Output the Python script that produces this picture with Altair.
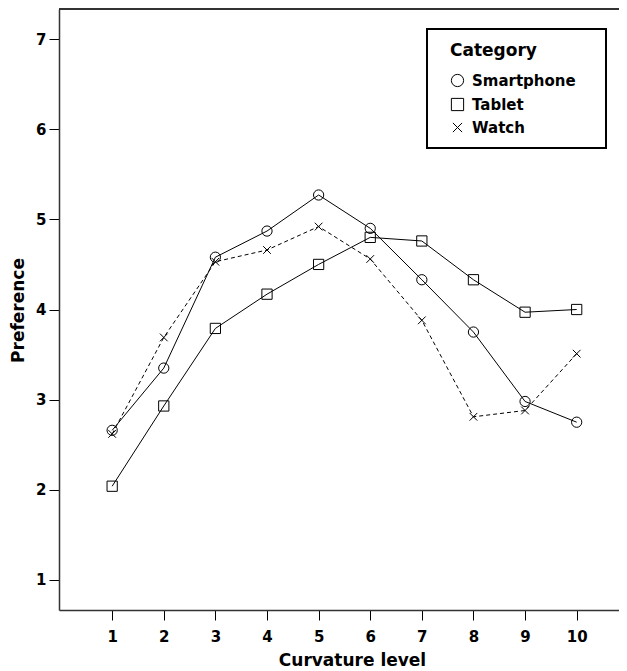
import altair as alt
import pandas as pd

levels = [1, 2, 3, 4, 5, 6, 7, 8, 9, 10]
categories = ["Smartphone", "Tablet", "Watch"]
smartphone = [2.66, 3.35, 4.58, 4.87, 5.27, 4.90, 4.33, 3.75, 2.98, 2.75]
tablet = [2.04, 2.93, 3.79, 4.17, 4.50, 4.80, 4.76, 4.33, 3.97, 4.00]
watch = [2.62, 3.69, 4.53, 4.66, 4.92, 4.56, 3.88, 2.81, 2.88, 3.51]
y_ticks = [1, 2, 3, 4, 5, 6, 7]

rows = []
for cat, vals in zip(categories, [smartphone, tablet, watch]):
    for lv, v in zip(levels, vals):
        rows.append({"Curvature level": lv, "Preference": v, "Category": cat})
df = pd.DataFrame(rows)

W, H = 560, 601
FONT = "DejaVu Sans"

x_enc = alt.X("Curvature level:Q",
              scale=alt.Scale(domain=[-0.03, 10.82], nice=False, zero=False),
              axis=alt.Axis(values=levels, format="d", title="Curvature level",
                            titleX=293, titleY=50, titleBaseline="middle", titleAlign="center"))
y_enc = alt.Y("Preference:Q",
              scale=alt.Scale(domain=[0.667, 7.333], nice=False, zero=False),
              axis=alt.Axis(values=y_ticks, format="d", title="Preference",
                            titleX=-41, titleY=301, titleAngle=270,
                            titleBaseline="middle", titleAlign="center"))

base = alt.Chart(df)

solid_lines = base.transform_filter(
    alt.FieldOneOfPredicate(field="Category", oneOf=["Smartphone", "Tablet"])
).mark_line(color="black", strokeWidth=1).encode(x=x_enc, y=y_enc, detail="Category:N")

dashed_line = base.transform_filter(
    alt.FieldEqualPredicate(field="Category", equal="Watch")
).mark_line(color="black", strokeWidth=1, strokeDash=[4, 3]).encode(x=x_enc, y=y_enc)

x_path = "M-0.75,-0.75L0.75,0.75M-0.75,0.75L0.75,-0.75"
points = base.mark_point(filled=False, color="black", strokeWidth=1, size=105, opacity=1).encode(
    x=x_enc, y=y_enc,
    shape=alt.Shape("Category:N",
                    scale=alt.Scale(domain=categories, range=["circle", "square", x_path]),
                    legend=alt.Legend(orient="none", legendX=391, legendY=34, title="Category",
                                      titleFont=FONT, titleFontSize=17, titleFontWeight="bold",
                                      titleColor="black", titlePadding=13,
                                      labelFont=FONT, labelFontSize=15, labelFontWeight="bold",
                                      labelColor="black", labelOffset=7,
                                      symbolSize=150, symbolStrokeColor="black",
                                      symbolStrokeWidth=1, symbolFillColor="white",
                                      rowPadding=7, padding=0)),
)

box = base.mark_rect(fill=None, stroke="black", strokeWidth=1.5).encode(
    x=alt.value(368), x2=alt.value(547), y=alt.value(20), y2=alt.value(139)
)

top_rule = base.mark_rule(color="#333", strokeWidth=1.5).encode(
    x=alt.value(0), x2=alt.value(W), y=alt.value(0)
)

chart = alt.layer(solid_lines, dashed_line, points, top_rule, box).properties(
    width=W, height=H,
    autosize=alt.AutoSizeParams(type="none"),
    padding={"left": 51, "top": 1, "right": 0, "bottom": 61},
).configure_view(stroke=None).configure_axis(
    grid=False, domainColor="#333", domainWidth=1.5, tickColor="black", tickSize=10,
    labelFont=FONT, labelFontSize=15, labelFontWeight="bold", labelColor="black",
    titleFont=FONT, titleFontSize=17, titleFontWeight="bold", titleColor="black",
).configure_axisX(labelPadding=9).configure_axisY(labelPadding=3)

chart.save("out.html", embed_options={"renderer": "svg", "actions": False})
